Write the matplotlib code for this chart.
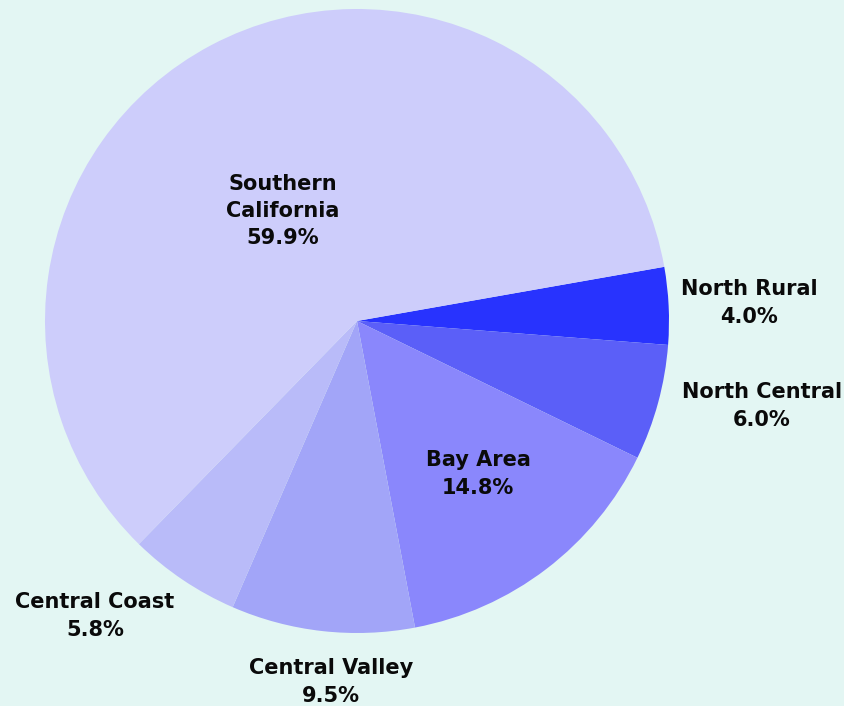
import numpy as np
import matplotlib.pyplot as plt

regions = ['North Rural', 'North Central', 'Bay Area', 'Central Valley',
           'Central Coast', 'Southern California']
shares = [4.0, 6.0, 14.8, 9.5, 5.8, 59.9]
colors = ['#2833fe', '#5b5ff8', '#8a87fc', '#a2a5f8', '#b9bbf9', '#cdcdfb']
label_text = ['North Rural', 'North Central', 'Bay Area', 'Central Valley',
              'Central Coast', 'Southern\nCalifornia']

# label centres in pixels of the 844x706 picture
label_px = [(749, 303), (762, 406), (478, 474), (331, 682), (95, 616), (283, 211)]

bg = '#e3f6f3'
W, H = 844, 706
cx, cy, R = 357, 321, 312

fig = plt.figure(figsize=(W / 100, H / 100), dpi=100, facecolor=bg)
ax = fig.add_axes([0, 0, 1, 1])
ax.set_facecolor(bg)

ax.pie(shares, colors=colors, startangle=10.0, counterclock=False,
       radius=1.0, center=(0, 0), wedgeprops=dict(linewidth=0))

ax.set_xlim(-cx / R, (W - cx) / R)
ax.set_ylim(-(H - cy) / R, cy / R)
ax.set_aspect('auto')
ax.axis('off')

for name, val, (px, py) in zip(label_text, shares, label_px):
    ax.text((px - cx) / R, (cy - py) / R, f'{name}\n{val:.1f}%',
            ha='center', va='center', fontsize=15, fontweight='bold',
            color='#0a0a0a', linespacing=1.45, family='DejaVu Sans')

fig.savefig('out.png', dpi=100, facecolor=bg)
